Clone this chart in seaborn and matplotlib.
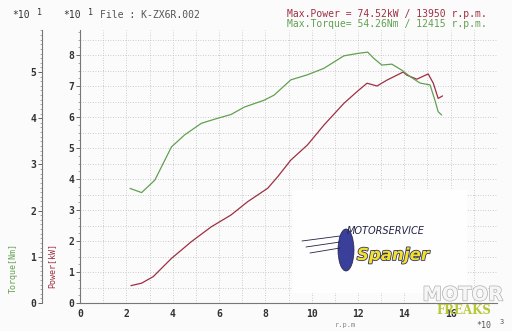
import matplotlib
matplotlib.use("Agg")
import matplotlib.pyplot as plt
import matplotlib.patheffects as pe
import seaborn as sns
import pandas as pd
import numpy as np
from matplotlib.patches import Rectangle, Ellipse
from matplotlib.ticker import MultipleLocator

# ---- data (rpm x1000, torque x10 Nm, power x10 kW) ----
rpm_torque = [2.16, 2.66, 3.23, 3.95, 4.52, 5.24, 5.95, 6.52, 7.09, 7.95, 8.38, 9.10,
              9.82, 10.53, 11.39, 11.96, 12.42, 12.67, 13.03, 13.46, 13.89, 14.25,
              14.68, 15.11, 15.32, 15.46, 15.61]
torque = [2.48, 2.39, 2.66, 3.38, 3.64, 3.89, 4.00, 4.08, 4.24, 4.39, 4.50, 4.83,
          4.94, 5.08, 5.35, 5.40, 5.43, 5.30, 5.15, 5.17, 5.04, 4.90,
          4.76, 4.72, 4.39, 4.14, 4.07]
rpm_power = [2.20, 2.66, 3.16, 3.95, 4.81, 5.67, 6.52, 7.24, 8.10, 8.53, 9.10, 9.82,
             10.53, 11.39, 11.96, 12.39, 12.82, 13.25, 13.95, 14.11, 14.54, 15.03,
             15.25, 15.46, 15.65]
power = [0.56, 0.64, 0.85, 1.44, 1.98, 2.46, 2.84, 3.27, 3.70, 4.07, 4.61, 5.10,
         5.74, 6.44, 6.82, 7.09, 7.00, 7.19, 7.45, 7.35, 7.22, 7.39,
         7.09, 6.60, 6.68]
x_ticks = [0, 2, 4, 6, 8, 10, 12, 14, 16]
power_ticks = [0, 1, 2, 3, 4, 5, 6, 7, 8]
torque_ticks = [0, 1, 2, 3, 4, 5]

RED = "#9e2f42"
GREEN = "#62a052"
MONO = ["DejaVu Sans Mono"]

sns.set_style("white")
plt.rcParams["font.family"] = MONO

W, H = 512, 331
fig = plt.figure(figsize=(W / 100, H / 100), dpi=100)
fig.patch.set_facecolor("#fbfbfb")

def fx(px):
    return px / W

def fy(py):
    return 1 - py / H

L, R, T, B = 80, 497, 30, 303
ax = fig.add_axes([fx(L), fy(B), (R - L) / W, (B - T) / H])
ax.set_facecolor("#fbfbfb")
ax.set_xlim(0, 18)
ax.set_ylim(0, (B - T) / 31.0)

# grid
for gx in np.arange(1, 18.01, 1):
    ax.axvline(gx, color="#bdbdbd", lw=0.6, ls=(0, (1, 2)), zorder=0)
for gy in np.arange(0.5, 8.51, 0.5):
    ax.axhline(gy, color="#bdbdbd", lw=0.6, ls=(0, (1, 2)), zorder=0)

df_p = pd.DataFrame({"rpm": rpm_power, "power": power})
sns.lineplot(data=df_p, x="rpm", y="power", ax=ax, color=RED, lw=0.9,
             sort=False, estimator=None)

ax2 = ax.twinx()
ax2.set_ylim(0, (B - T) / 46.2)
df_t = pd.DataFrame({"rpm": rpm_torque, "torque": torque})
sns.lineplot(data=df_t, x="rpm", y="torque", ax=ax2, color=GREEN, lw=0.9,
             sort=False, estimator=None)

# spines / ticks
for s in ["top", "right"]:
    ax.spines[s].set_visible(False)
    ax2.spines[s].set_visible(False)
ax2.spines["bottom"].set_visible(False)
ax2.spines["left"].set_position(("axes", (42 - L) / (R - L)))
ax2.spines["left"].set_visible(True)
ax2.yaxis.set_ticks_position("left")
ax2.yaxis.set_label_position("left")
for sp in [ax.spines["left"], ax.spines["bottom"], ax2.spines["left"]]:
    sp.set_color("#777777")
    sp.set_linewidth(0.8)

ax.set_xticks(x_ticks)
ax.set_yticks(power_ticks)
ax2.set_yticks(torque_ticks)
ax.xaxis.set_minor_locator(MultipleLocator(0.25))
ax.yaxis.set_minor_locator(MultipleLocator(0.25))
ax2.yaxis.set_minor_locator(MultipleLocator(0.1))
ax.tick_params(axis="both", which="major", direction="out", length=3, width=0.7,
               color="#666666", labelsize=7, labelcolor="#333333", pad=1)
ax.tick_params(axis="both", which="minor", direction="out", length=1.5, width=0.5,
               color="#888888")
ax2.tick_params(axis="y", which="major", direction="out", length=3, width=0.7,
                color="#666666", labelsize=7, labelcolor="#333333", pad=1)
ax2.tick_params(axis="y", which="minor", direction="out", length=1.5, width=0.5,
                color="#888888")
ax.set_xlabel("")
ax.set_ylabel("")
ax2.set_ylabel("")
for lab in ax.get_xticklabels() + ax.get_yticklabels() + ax2.get_yticklabels():
    lab.set_fontweight("bold")

# axis titles
fig.text(fx(13), fy(268), "Torque[Nm]", rotation=90, color=GREEN, fontsize=6,
         ha="center", va="center")
fig.text(fx(52), fy(266), "Power[kW]", rotation=90, color=RED, fontsize=6,
         ha="center", va="center")

# header texts
for x0 in (12, 63):
    fig.text(fx(x0), fy(18), "*10", fontsize=7, color="#333333", ha="left", va="baseline")
    fig.text(fx(x0 + 25), fy(15), "1", fontsize=6, color="#333333", ha="left", va="baseline")
fig.text(fx(100), fy(18), "File : K-ZX6R.002", fontsize=7, color="#555555",
         ha="left", va="baseline")
fig.text(fx(287), fy(17), "Max.Power = 74.52kW / 13950 r.p.m.", fontsize=7,
         color=RED, ha="left", va="baseline")
fig.text(fx(287), fy(27), "Max.Torque= 54.26Nm / 12415 r.p.m.", fontsize=7,
         color=GREEN, ha="left", va="baseline")

# bottom texts
fig.text(fx(345), fy(325), "r.p.m", fontsize=5, color="#888888", ha="center", va="center")
fig.text(fx(484), fy(325.5), "*10", fontsize=6, color="#555555", ha="center", va="center")
fig.text(fx(502), fy(322), "3", fontsize=5, color="#555555", ha="center", va="center")

# sponsor logo box
ax2.add_patch(Rectangle((fx(293), fy(293)), (467 - 293) / W, (293 - 190) / H,
                        transform=fig.transFigure, facecolor="#fefefe",
                        edgecolor="none", zorder=5))
ax2.add_patch(Ellipse((fx(346), fy(250)), 16 / W, 42 / H, transform=fig.transFigure,
                      facecolor="#3a3f9a", edgecolor="#222244", lw=0.5, zorder=6))
fig.text(fx(386), fy(231), "MOTORSERVICE", fontsize=7, style="italic",
         family=["DejaVu Sans"], color="#222244", ha="center", va="center", zorder=7)
fig.text(fx(393), fy(255), "Spanjer", fontsize=12, style="italic", weight="bold",
         family=["DejaVu Sans"], color="#f2e02a", ha="center", va="center", zorder=7,
         path_effects=[pe.withStroke(linewidth=1.2, foreground="#333366")])
for i in range(3):
    fig.lines.append(plt.Line2D([fx(302 + 4 * i), fx(340)], [fy(241 + 6 * i), fy(236 + 6 * i)],
                                transform=fig.transFigure, color="#222244", lw=0.6, zorder=6))

# watermark
fig.text(fx(463), fy(295), "MOTOR", fontsize=14, weight="bold", family=["DejaVu Sans"],
         color="#f6f6f6", ha="center", va="center", zorder=8,
         path_effects=[pe.withStroke(linewidth=1.0, foreground="#b0b0b0")])
fig.text(fx(464), fy(310), "FREAKS", fontsize=8.5, weight="bold", family=["DejaVu Serif"],
         color="#b8c83a", ha="center", va="center", zorder=8)

fig.savefig("out.png", dpi=100, facecolor=fig.get_facecolor())
